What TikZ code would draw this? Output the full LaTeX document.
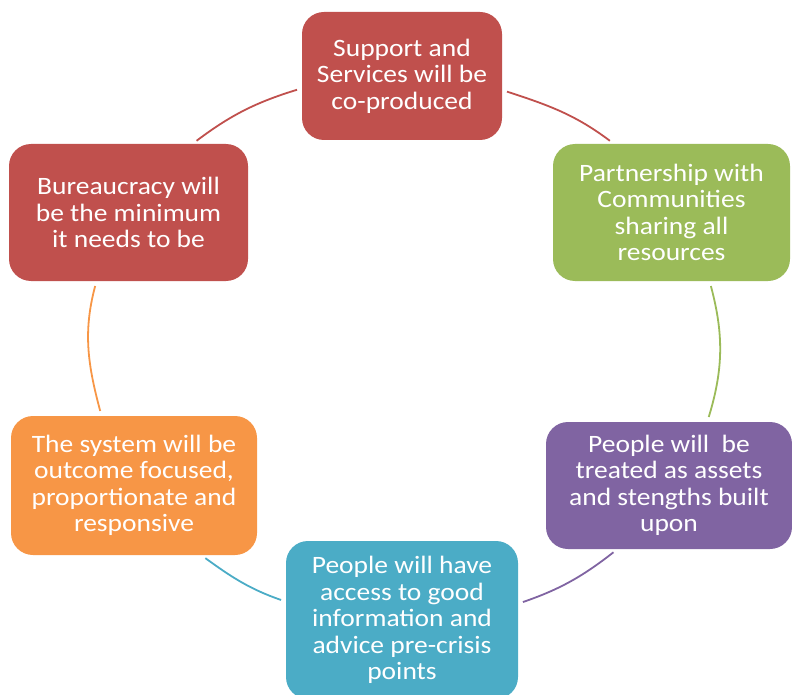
\documentclass[tikz,border=0pt]{standalone}
\usepackage{fontspec}
\newfontfamily\boxfont[FakeStretch=1.1]{Carlito}

\definecolor{sred}{HTML}{C0504D}
\definecolor{sgreen}{HTML}{9BBB59}
\definecolor{spurple}{HTML}{8064A2}
\definecolor{steal}{HTML}{4BACC6}
\definecolor{sorange}{HTML}{F79646}

\tikzset{
  stage/.style={rectangle, rounded corners=22pt, fill=#1, text=white, align=center,
    inner sep=0pt, font=\boxfont\fontsize{25}{26.5}\selectfont},
  link/.style={line width=1.8pt, shorten <=5pt, shorten >=5pt}
}

\begin{document}
\begin{tikzpicture}[x=1pt, y=1pt]
    \useasboundingbox (0,0) rectangle (792,-695);

    \node[stage=sred, minimum width=200pt, minimum height=128pt] (coprod) at (402,-76) {Support and\\Services will be\\co-produced};
    \node[stage=sgreen, minimum width=237pt, minimum height=137pt] (partner) at (671.5,-212.5) {Partnership with\\Communities\\sharing all\\resources};
    \node[stage=spurple, minimum width=246pt, minimum height=127pt] (assets) at (669,-485.5) {People will~ be\\treated as assets\\and stengths built\\upon};
    \node[stage=steal, minimum width=232pt, minimum height=158pt] (advice) at (402,-620) {People will have\\access to good\\information and\\advice pre-crisis\\points};
    \node[stage=sorange, minimum width=246pt, minimum height=139pt] (outcome) at (134,-485.5) {The system will be\\outcome focused,\\proportionate and\\responsive};
    \node[stage=sred, minimum width=239pt, minimum height=137pt] (bureau) at (128.5,-212.5) {Bureaucracy will\\be the minimum\\it needs to be};

    \path[link]
        (coprod.-8) edge[sred, out=-18, in=143] (partner.130)
        (partner.-61) edge[sgreen, out=-75, in=73] (assets.59)
        (assets.231) edge[spurple, out=-142, in=19] (advice.8)
        (advice.171) edge[steal, out=161, in=-36] (outcome.-46)
        (outcome.115) edge[sorange, out=105, in=-105] (bureau.-115)
        (bureau.47) edge[sred, out=37, in=-163] (coprod.187);
\end{tikzpicture}
\end{document}
